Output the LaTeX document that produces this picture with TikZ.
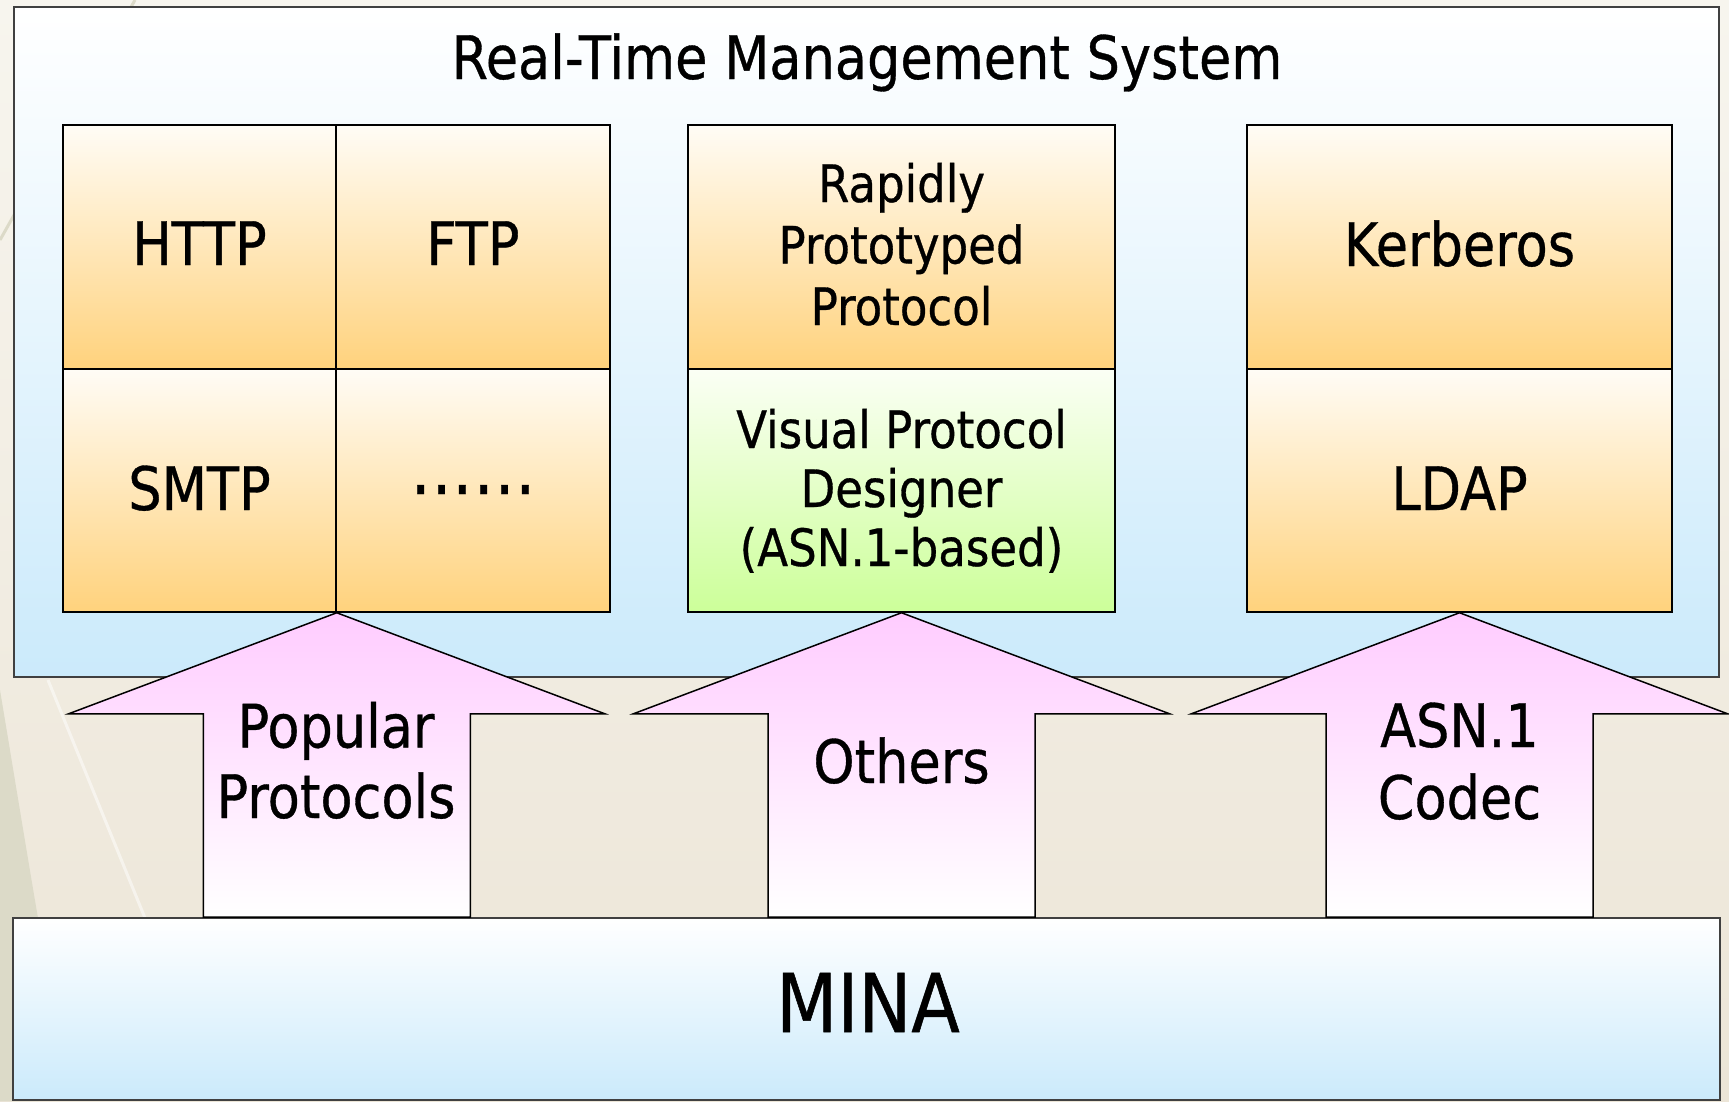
\documentclass[tikz,border=0pt]{standalone}
\usepackage{fontspec}
\setmainfont[FakeStretch=0.875,FakeBold=0.6]{DejaVu Sans}
\usetikzlibrary{calc}
\definecolor{bgtop}{HTML}{F7F5EE}
\definecolor{bgbot}{HTML}{ECE5D7}
\definecolor{bgdark}{HTML}{DCDAC8}
\definecolor{boxblue}{HTML}{CBEAFB}
\definecolor{orangebot}{HTML}{FFD27C}
\definecolor{orangetop}{HTML}{FFFCF6}
\definecolor{greenbot}{HTML}{CCFF99}
\definecolor{greentop}{HTML}{FBFFF5}
\definecolor{pinktop}{HTML}{FFCCFF}
\definecolor{edgegray}{HTML}{404040}
\begin{document}
\begin{tikzpicture}[x=1pt,y=-1pt,
  panel/.style={draw=edgegray, line width=2.5pt, top color=white, bottom color=boxblue, inner sep=0pt},
  cellorange/.style={draw=black, line width=1.5pt, top color=orangetop, bottom color=orangebot, inner sep=0pt},
  cellgreen/.style={draw=black, line width=1.5pt, top color=greentop, bottom color=greenbot, inner sep=0pt},
  uparrow/.style={draw=black, line width=1.5pt, line join=miter, top color=pinktop, bottom color=white},
  lbl/.style={inner sep=0pt, anchor=base, align=center, font=\fontsize{60}{70}\selectfont},
  smalllbl/.style={lbl, font=\fontsize{51.5}{61}\selectfont}
]
\useasboundingbox (0,0) rectangle (1729,1101);
% background
\fill[top color=bgtop, bottom color=bgbot] (0,0) rectangle (1729,1101);
\fill[bgdark] (0,690) .. controls (15,780) and (28,860) .. (38,918) -- (38,1101) -- (0,1101) -- cycle;
\draw[white, opacity=0.5, line width=3pt] (48,680) -- (145,918);
\draw[bgdark, line width=3pt] (135,0) -- (0,240);

% outer panel
\node[panel, minimum width=1705pt, minimum height=670pt] (rtms) at (866.5,342) {};

% cells
\node[cellorange, minimum width=273pt, minimum height=244pt] (http) at (199.5,247) {};
\node[cellorange, minimum width=274pt, minimum height=244pt] (ftp) at (473,247) {};
\node[cellorange, minimum width=273pt, minimum height=243pt] (smtp) at (199.5,490.5) {};
\node[cellorange, minimum width=274pt, minimum height=243pt] (more) at (473,490.5) {};
\node[cellorange, minimum width=427pt, minimum height=244pt] (rpp) at (901.5,247) {};
\node[cellgreen, minimum width=427pt, minimum height=243pt] (vpd) at (901.5,490.5) {};
\node[cellorange, minimum width=425pt, minimum height=244pt] (kerb) at (1459.5,247) {};
\node[cellorange, minimum width=425pt, minimum height=243pt] (ldap) at (1459.5,490.5) {};

% MINA base
\node[panel, line width=2pt, minimum width=1707pt, minimum height=182pt] (mina) at (866.5,1009) {};

% block arrows
\foreach \tipname in {smtp.south east, vpd.south, ldap.south}{
  \coordinate (tip) at (\tipname);
  \coordinate (sl) at ($(tip)+(-133.5,0)$);
  \coordinate (sr) at ($(tip)+(133.5,0)$);
  \draw[uparrow] (tip) -- ($(tip)+(268,101)$) -- ($(tip)+(133.5,101)$)
     -- (sr |- mina.north) -- (sl |- mina.north)
     -- ($(tip)+(-133.5,101)$) -- ($(tip)+(-268,101)$) -- cycle;
}

% labels (anchor=base of a multi-line node is its last line)
\node[lbl] (titlet) at (867,79) {Real-Time Management System};
\node[lbl] (httpt) at (199.5,265) {HTTP};
\node[lbl] (ftpt) at (473,265) {FTP};
\node[lbl] (smtpt) at (199.5,510) {SMTP};
\node[lbl, font=\fontsize{72}{80}\selectfont] (moret) at (473,494) {……};
\node[smalllbl, font=\fontsize{51.5}{61.5}\selectfont] (rppt) at (901.5,325) {Rapidly\\Prototyped\\Protocol};
\node[smalllbl, font=\fontsize{51.5}{59}\selectfont] (vpdt) at (901.5,566) {Visual Protocol\\Designer\\(ASN.1-based)};
\node[lbl] (kerbt) at (1459.5,266) {Kerberos};
\node[lbl] (ldapt) at (1459.5,510) {LDAP};
\node[lbl, font=\fontsize{60}{70.5}\selectfont] (popt) at (336,818) {Popular\\Protocols};
\node[lbl] (otht) at (901.5,783) {Others};
\node[lbl, font=\fontsize{60}{72}\selectfont] (asnt) at (1459.5,819) {ASN.1\\Codec};
\node[lbl, font=\fontsize{81}{90}\selectfont] (minat) at (868,1032) {MINA};
\end{tikzpicture}
\end{document}
